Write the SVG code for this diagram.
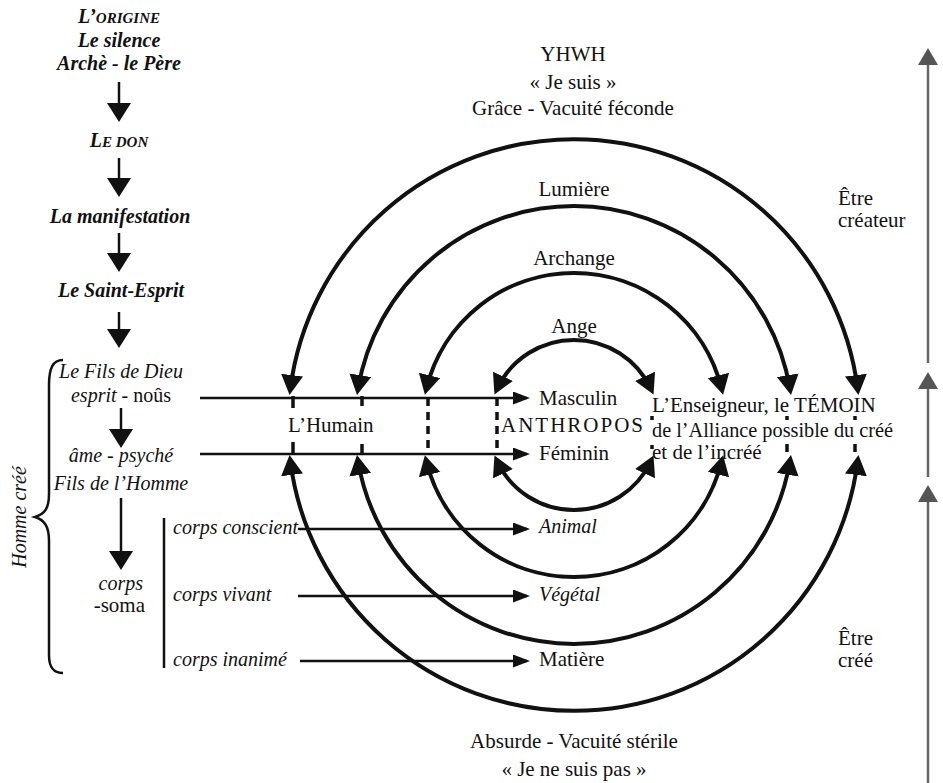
<svg xmlns="http://www.w3.org/2000/svg" width="943" height="783" viewBox="0 0 943 783">
<defs>
<style>
text{font-family:"Liberation Serif","Times New Roman",serif;fill:#111;}
.it{font-style:italic;font-size:20px;}
.itb{font-style:italic;font-weight:bold;font-size:20px;}
.up{font-size:21px;}
.c{text-anchor:middle;}
.arc{fill:none;stroke:#111;stroke-width:4;}
.ln{fill:none;stroke:#111;stroke-width:2.5;}
.gl{fill:none;stroke:#666;stroke-width:2.5;}
.dash{fill:none;stroke:#111;stroke-width:3.5;}
</style>
<marker id="ah" markerUnits="userSpaceOnUse" markerWidth="24" markerHeight="24" refX="14" refY="11" orient="auto-start-reverse"><path d="M0,0 L20,11 L0,22 Z" fill="#111"/></marker>
<marker id="sh" markerUnits="userSpaceOnUse" markerWidth="20" markerHeight="16" refX="14" refY="6.5" orient="auto"><path d="M0,0 L17,6.5 L0,13 Z" fill="#111"/></marker>
<marker id="ch" markerUnits="userSpaceOnUse" markerWidth="22" markerHeight="26" refX="16" refY="12" orient="auto"><path d="M0,0 L19,12 L0,24 Z" fill="#111"/></marker>
<marker id="gh" markerUnits="userSpaceOnUse" markerWidth="20" markerHeight="22" refX="14" refY="10" orient="auto"><path d="M0,0 L17,10 L0,20 Z" fill="#555"/></marker>
</defs>
<rect width="943" height="783" fill="#fff"/>

<g id="connectors">
<!-- left column arrows -->
<line class="ln" x1="119" y1="82" x2="119" y2="119" marker-end="url(#ch)"/>
<line class="ln" x1="119" y1="158" x2="119" y2="194" marker-end="url(#ch)"/>
<line class="ln" x1="119" y1="233" x2="119" y2="269" marker-end="url(#ch)"/>
<line class="ln" x1="119" y1="312" x2="119" y2="345" marker-end="url(#ch)"/>
<line class="ln" x1="121" y1="408" x2="121" y2="445" marker-end="url(#ch)"/>
<line class="ln" x1="121" y1="498" x2="121" y2="567" marker-end="url(#ch)"/>
<!-- brace -->
<path class="ln" stroke-width="3" d="M63,360 C53,360 49,368 49,385 L49,494 C49,508 45,514 35,517 C45,520 49,527 49,541 L49,655 C49,667 53,673 63,673"/>
<!-- corps bracket -->
<line class="ln" x1="164" y1="518" x2="164" y2="668"/>
<!-- horizontal arrows -->
<line class="ln" x1="200" y1="398" x2="527" y2="398" marker-end="url(#sh)"/>
<line class="ln" x1="200" y1="454" x2="527" y2="454" marker-end="url(#sh)"/>
<line class="ln" x1="298" y1="529" x2="527" y2="529" marker-end="url(#sh)"/>
<line class="ln" x1="298" y1="596" x2="527" y2="596" marker-end="url(#sh)"/>
<line class="ln" x1="300" y1="661" x2="527" y2="661" marker-end="url(#sh)"/>
<!-- top arcs -->
<path class="arc" d="M290.3,389 A286,286 0 0 1 857.7,389" marker-start="url(#ah)" marker-end="url(#ah)"/>
<path class="arc" d="M358,389 A219,219 0 0 1 790,389" marker-start="url(#ah)" marker-end="url(#ah)"/>
<path class="arc" d="M426.3,389 A152,152 0 0 1 721.7,389" marker-start="url(#ah)" marker-end="url(#ah)"/>
<path class="arc" d="M497,389 A85,85 0 0 1 651,389" marker-start="url(#ah)" marker-end="url(#ah)"/>
<!-- bottom arcs -->
<path class="arc" d="M290.3,461 A286,286 0 0 0 857.7,461" marker-start="url(#ah)" marker-end="url(#ah)"/>
<path class="arc" d="M358,461 A219,219 0 0 0 790,461" marker-start="url(#ah)" marker-end="url(#ah)"/>
<path class="arc" d="M426.3,461 A152,152 0 0 0 721.7,461" marker-start="url(#ah)" marker-end="url(#ah)"/>
<path class="arc" d="M497,461 A85,85 0 0 0 651,461" marker-start="url(#ah)" marker-end="url(#ah)"/>
<!-- dashed links between levels -->
<line class="dash" x1="293" y1="396" x2="293" y2="408"/>
<line class="dash" x1="293" y1="442" x2="293" y2="455"/>
<line class="dash" x1="362" y1="396" x2="362" y2="406"/>
<line class="dash" x1="362" y1="444" x2="362" y2="455"/>
<line class="dash" x1="428" y1="398" x2="428" y2="455" stroke-dasharray="8,6"/>
<line class="dash" x1="497" y1="398" x2="497" y2="455" stroke-dasharray="8,6"/>
<line class="dash" x1="652" y1="416" x2="652" y2="420"/>
<line class="dash" x1="652" y1="445" x2="652" y2="449"/>
<line class="dash" x1="787" y1="416" x2="787" y2="420"/>
<line class="dash" x1="787" y1="444" x2="787" y2="452"/>
<line class="dash" x1="855" y1="416" x2="855" y2="420"/>
<line class="dash" x1="855" y1="444" x2="855" y2="452"/>
<!-- right gray arrows -->
<line class="gl" x1="928" y1="363" x2="928" y2="51" marker-end="url(#gh)"/>
<line class="gl" x1="928" y1="477" x2="928" y2="375" marker-end="url(#gh)"/>
<line class="gl" x1="928" y1="783" x2="928" y2="488" marker-end="url(#gh)"/>
</g>

<g id="n-origine"><text class="itb c" x="119" y="23">L’<tspan font-size="15">ORIGINE</tspan></text>
<text class="itb c" x="119" y="47">Le silence</text>
<text class="itb c" x="119" y="70">Archè - le Père</text></g>
<g id="n-don"><text class="itb c" x="119" y="147">L<tspan font-size="15">E DON</tspan></text></g>
<g id="n-manifestation"><text class="itb c" x="120" y="223">La manifestation</text></g>
<g id="n-saint-esprit"><text class="itb c" x="121" y="297">Le Saint-Esprit</text></g>
<g id="n-fils-dieu"><text class="it c" x="121" y="378">Le Fils de Dieu</text>
<text class="it c" x="121" y="402">esprit <tspan font-style="normal">- noûs</tspan></text></g>
<g id="n-ame"><text class="it c" x="121" y="462">âme - psyché</text>
<text class="it c" x="121" y="490">Fils de l’Homme</text></g>
<g id="n-corps"><text class="it" x="143" y="590" text-anchor="end">corps</text>
<text class="up" x="145" y="612" text-anchor="end" font-size="20">-soma</text></g>
<g id="n-homme-cree"><text class="it c" transform="translate(26,517) rotate(-90)">Homme créé</text></g>
<g id="n-corps-conscient"><text class="it" x="173" y="534" font-size="19">corps conscient</text></g>
<g id="n-corps-vivant"><text class="it" x="173" y="601" font-size="19">corps vivant</text></g>
<g id="n-corps-inanime"><text class="it" x="173" y="666" font-size="19">corps inanimé</text></g>

<g id="n-yhwh"><text class="up c" x="573" y="61">YHWH</text>
<text class="up c" x="573" y="89">« Je suis »</text>
<text class="up c" x="573" y="115">Grâce - Vacuité féconde</text></g>
<g id="n-lumiere"><text class="up c" x="574" y="196">Lumière</text></g>
<g id="n-archange"><text class="up c" x="574" y="265">Archange</text></g>
<g id="n-ange"><text class="up c" x="574" y="333">Ange</text></g>
<g id="n-humain"><text class="up" x="288" y="432">L’Humain</text></g>
<g id="n-anthropos"><text class="up" x="539" y="405">Masculin</text>
<text class="up" x="501" y="432" textLength="142" lengthAdjust="spacing">ANTHROPOS</text>
<text class="up" x="539" y="460">Féminin</text></g>
<g id="n-temoin"><text class="up" x="652" y="412">L’Enseigneur, le TÉMOIN</text>
<text class="up" x="652" y="437" textLength="241" lengthAdjust="spacingAndGlyphs">de l’Alliance possible du créé</text>
<text class="up" x="652" y="459">et de l’incréé</text></g>
<g id="n-animal"><text class="it" x="539" y="533" font-size="21">Animal</text></g>
<g id="n-vegetal"><text class="it" x="539" y="601" font-size="21">Végétal</text></g>
<g id="n-matiere"><text class="up" x="539" y="666">Matière</text></g>
<g id="n-absurde"><text class="up c" x="574" y="748">Absurde - Vacuité stérile</text>
<text class="up c" x="574" y="776">« Je ne suis pas »</text></g>
<g id="n-etre-createur"><text class="up" x="838" y="205" font-size="20">Être</text>
<text class="up" x="838" y="227" font-size="20">créateur</text></g>
<g id="n-etre-cree"><text class="up" x="838" y="645" font-size="20">Être</text>
<text class="up" x="838" y="667" font-size="20">créé</text></g>
</svg>
